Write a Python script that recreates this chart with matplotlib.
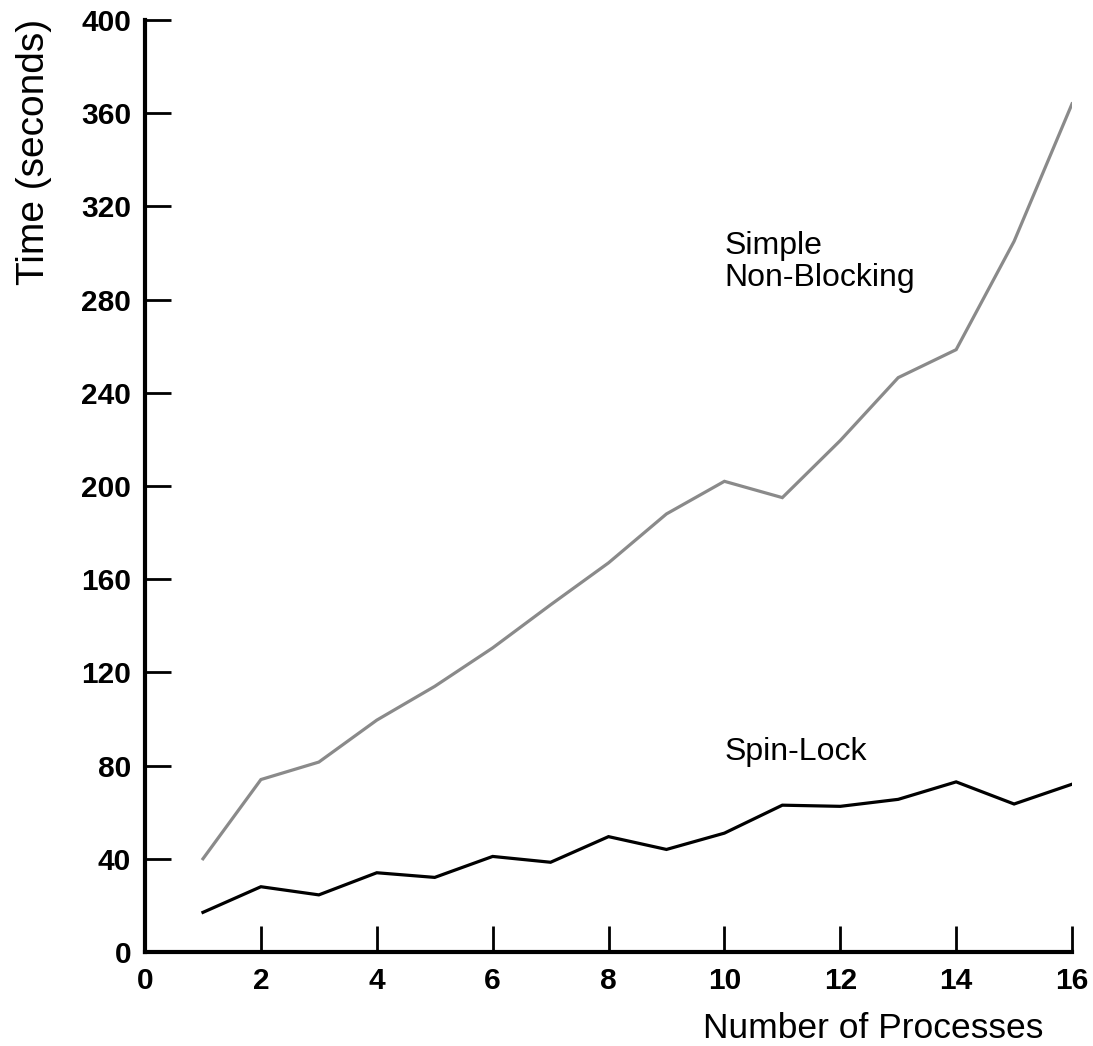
import numpy as np
import matplotlib
matplotlib.use("Agg")
import matplotlib.pyplot as plt

# Run time per number of processes
processes = np.arange(1, 17)
simple_non_blocking = [40, 74, 81.5, 99.5, 114, 130.5, 149, 167, 188, 202,
                       195, 219.5, 246.5, 258.5, 305, 364]
spin_lock = [17, 28, 24.5, 34, 32, 41, 38.5, 49.5, 44, 51,
             63, 62.5, 65.5, 73, 63.5, 72]

x_ticks = list(range(0, 17, 2))
y_ticks = list(range(0, 401, 40))

plt.rcParams["font.family"] = ["Liberation Sans", "DejaVu Sans"]

fig = plt.figure(figsize=(10.93, 10.46), dpi=100)
ax = fig.add_axes([0.1327, 0.0899, 0.8481, 0.891])

ax.plot(processes, simple_non_blocking, color="#8a8a8a", lw=2.3, solid_joinstyle="miter")
ax.plot(processes, spin_lock, color="black", lw=2.3, solid_joinstyle="miter")

ax.set_xlim(0, 16)
ax.set_ylim(0, 400)
ax.set_xticks(x_ticks)
ax.set_yticks(y_ticks)

for side in ["top", "right"]:
    ax.spines[side].set_visible(False)
for side in ["left", "bottom"]:
    ax.spines[side].set_linewidth(3)
    ax.spines[side].set_capstyle("projecting")

ax.tick_params(axis="both", direction="in", length=19, width=2)
ax.tick_params(axis="x", pad=11)
ax.tick_params(axis="y", pad=10)
for lab in ax.get_xticklabels() + ax.get_yticklabels():
    lab.set_fontsize(21.5)
    lab.set_fontweight("bold")

ax.text(10, 296, "Simple\nNon-Blocking", fontsize=23, ha="left", va="center",
        linespacing=1.1)
ax.text(10, 86, "Spin-Lock", fontsize=23, ha="left", va="center")

fig.text(1043 / 1093, 1 - 1028 / 1046, "Number of Processes", fontsize=25.5,
         ha="right", va="center")
fig.text(34 / 1093, 1 - 152 / 1046, "Time (seconds)", fontsize=28,
         rotation=90, ha="center", va="center")

fig.savefig("out.png", dpi=100, facecolor="white")
